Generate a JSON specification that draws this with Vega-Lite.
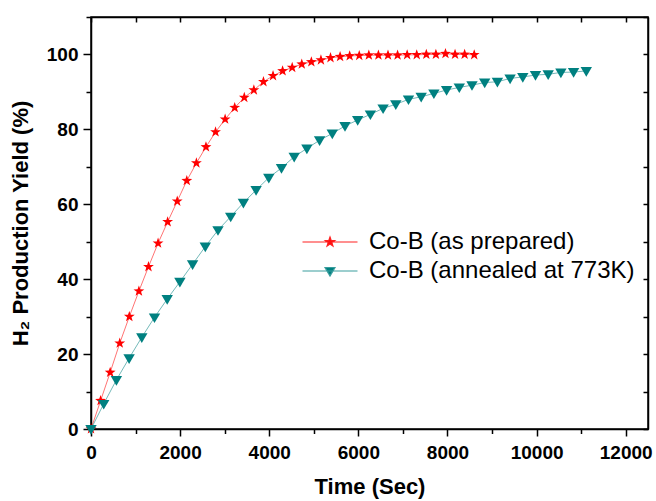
{
  "$schema": "https://vega.github.io/schema/vega-lite/v6.json",
  "width": 557,
  "height": 412,
  "autosize": {"type": "none"},
  "padding": {"left": 91, "top": 17, "right": 8, "bottom": 72},
  "background": "white",
  "config": {"view": {"stroke": "black", "strokeWidth": 1.5}, "font": "Liberation Sans",
    "legend": {"orient": "none", "legendX": 227, "legendY": 213, "title": null, "padding": 0,
      "labelFontSize": 24, "labelColor": "black", "labelOffset": 27, "rowPadding": 5, "symbolSize": 100, "labelLimit": 400, "symbolStrokeWidth": 1.2}},
  "datasets": {
    "legend": [
      {"label": "Co-B (as prepared)", "t": 0, "y": 0},
      {"label": "Co-B (annealed at 773K)", "t": 0, "y": 0}
    ]
  },
  "data": {"values": [
    {"s": "Co-B (as prepared)", "t": 0, "y": 0},
    {"s": "Co-B (as prepared)", "t": 215, "y": 7.55},
    {"s": "Co-B (as prepared)", "t": 430, "y": 15.1},
    {"s": "Co-B (as prepared)", "t": 645, "y": 22.9},
    {"s": "Co-B (as prepared)", "t": 860, "y": 30.0},
    {"s": "Co-B (as prepared)", "t": 1075, "y": 36.8},
    {"s": "Co-B (as prepared)", "t": 1290, "y": 43.3},
    {"s": "Co-B (as prepared)", "t": 1505, "y": 49.6},
    {"s": "Co-B (as prepared)", "t": 1720, "y": 55.3},
    {"s": "Co-B (as prepared)", "t": 1935, "y": 60.8},
    {"s": "Co-B (as prepared)", "t": 2150, "y": 66.3},
    {"s": "Co-B (as prepared)", "t": 2365, "y": 71.0},
    {"s": "Co-B (as prepared)", "t": 2580, "y": 75.3},
    {"s": "Co-B (as prepared)", "t": 2795, "y": 79.3},
    {"s": "Co-B (as prepared)", "t": 3010, "y": 82.7},
    {"s": "Co-B (as prepared)", "t": 3225, "y": 85.8},
    {"s": "Co-B (as prepared)", "t": 3440, "y": 88.5},
    {"s": "Co-B (as prepared)", "t": 3655, "y": 90.5},
    {"s": "Co-B (as prepared)", "t": 3870, "y": 92.7},
    {"s": "Co-B (as prepared)", "t": 4085, "y": 94.3},
    {"s": "Co-B (as prepared)", "t": 4300, "y": 95.6},
    {"s": "Co-B (as prepared)", "t": 4515, "y": 96.5},
    {"s": "Co-B (as prepared)", "t": 4730, "y": 97.4},
    {"s": "Co-B (as prepared)", "t": 4945, "y": 98.0},
    {"s": "Co-B (as prepared)", "t": 5160, "y": 98.5},
    {"s": "Co-B (as prepared)", "t": 5375, "y": 99.1},
    {"s": "Co-B (as prepared)", "t": 5590, "y": 99.4},
    {"s": "Co-B (as prepared)", "t": 5805, "y": 99.6},
    {"s": "Co-B (as prepared)", "t": 6020, "y": 99.7},
    {"s": "Co-B (as prepared)", "t": 6235, "y": 99.8},
    {"s": "Co-B (as prepared)", "t": 6450, "y": 99.8},
    {"s": "Co-B (as prepared)", "t": 6665, "y": 99.8},
    {"s": "Co-B (as prepared)", "t": 6880, "y": 99.8},
    {"s": "Co-B (as prepared)", "t": 7095, "y": 99.9},
    {"s": "Co-B (as prepared)", "t": 7310, "y": 99.9},
    {"s": "Co-B (as prepared)", "t": 7525, "y": 100.0},
    {"s": "Co-B (as prepared)", "t": 7740, "y": 100.0},
    {"s": "Co-B (as prepared)", "t": 7955, "y": 100.2},
    {"s": "Co-B (as prepared)", "t": 8170, "y": 100.0},
    {"s": "Co-B (as prepared)", "t": 8385, "y": 100.0},
    {"s": "Co-B (as prepared)", "t": 8600, "y": 99.9},
    {"s": "Co-B (annealed at 773K)", "t": 0, "y": 0},
    {"s": "Co-B (annealed at 773K)", "t": 285, "y": 6.7},
    {"s": "Co-B (annealed at 773K)", "t": 570, "y": 13.1},
    {"s": "Co-B (annealed at 773K)", "t": 855, "y": 18.9},
    {"s": "Co-B (annealed at 773K)", "t": 1140, "y": 24.5},
    {"s": "Co-B (annealed at 773K)", "t": 1425, "y": 29.8},
    {"s": "Co-B (annealed at 773K)", "t": 1710, "y": 34.7},
    {"s": "Co-B (annealed at 773K)", "t": 1995, "y": 39.3},
    {"s": "Co-B (annealed at 773K)", "t": 2280, "y": 44.0},
    {"s": "Co-B (annealed at 773K)", "t": 2565, "y": 48.7},
    {"s": "Co-B (annealed at 773K)", "t": 2850, "y": 53.1},
    {"s": "Co-B (annealed at 773K)", "t": 3135, "y": 56.7},
    {"s": "Co-B (annealed at 773K)", "t": 3420, "y": 60.4},
    {"s": "Co-B (annealed at 773K)", "t": 3705, "y": 63.8},
    {"s": "Co-B (annealed at 773K)", "t": 3990, "y": 67.1},
    {"s": "Co-B (annealed at 773K)", "t": 4275, "y": 69.7},
    {"s": "Co-B (annealed at 773K)", "t": 4560, "y": 72.7},
    {"s": "Co-B (annealed at 773K)", "t": 4845, "y": 74.9},
    {"s": "Co-B (annealed at 773K)", "t": 5130, "y": 77.1},
    {"s": "Co-B (annealed at 773K)", "t": 5415, "y": 78.9},
    {"s": "Co-B (annealed at 773K)", "t": 5700, "y": 80.9},
    {"s": "Co-B (annealed at 773K)", "t": 5985, "y": 82.5},
    {"s": "Co-B (annealed at 773K)", "t": 6270, "y": 84.0},
    {"s": "Co-B (annealed at 773K)", "t": 6555, "y": 85.6},
    {"s": "Co-B (annealed at 773K)", "t": 6840, "y": 86.7},
    {"s": "Co-B (annealed at 773K)", "t": 7125, "y": 88.0},
    {"s": "Co-B (annealed at 773K)", "t": 7410, "y": 88.7},
    {"s": "Co-B (annealed at 773K)", "t": 7695, "y": 89.6},
    {"s": "Co-B (annealed at 773K)", "t": 7980, "y": 90.5},
    {"s": "Co-B (annealed at 773K)", "t": 8265, "y": 91.2},
    {"s": "Co-B (annealed at 773K)", "t": 8550, "y": 91.8},
    {"s": "Co-B (annealed at 773K)", "t": 8835, "y": 92.5},
    {"s": "Co-B (annealed at 773K)", "t": 9120, "y": 92.7},
    {"s": "Co-B (annealed at 773K)", "t": 9405, "y": 93.6},
    {"s": "Co-B (annealed at 773K)", "t": 9690, "y": 94.0},
    {"s": "Co-B (annealed at 773K)", "t": 9975, "y": 94.5},
    {"s": "Co-B (annealed at 773K)", "t": 10260, "y": 94.7},
    {"s": "Co-B (annealed at 773K)", "t": 10545, "y": 95.2},
    {"s": "Co-B (annealed at 773K)", "t": 10830, "y": 95.3},
    {"s": "Co-B (annealed at 773K)", "t": 11115, "y": 95.6}
  ]},
  "layer": [
    {
      "transform": [{"filter": "datum.s === 'Co-B (as prepared)'"}],
      "mark": {"type": "line", "strokeWidth": 1, "opacity": 0.55, "color": "#ff0000"},
      "encoding": {
        "x": {"field": "t", "type": "quantitative",
          "scale": {"domain": [0, 12500], "nice": false, "zero": false},
          "axis": {"orient": "bottom", "values": [0,1000,2000,3000,4000,5000,6000,7000,8000,9000,10000,11000,12000],
            "labelExpr": "datum.value % 2000 === 0 ? datum.label : ''", "format": "d",
            "labelFontSize": 19, "labelFontWeight": "bold", "labelColor": "black", "labelPadding": 7, "labelFlush": false,
            "tickSize": {"condition": {"test": "datum.value % 2000 === 0", "value": 7}, "value": 4.5},
            "tickColor": "black", "tickWidth": 1.5, "domainColor": "black", "domainWidth": 1.5, "grid": false,
            "title": "Time (Sec)", "titleFontSize": 22, "titleFontWeight": "bold", "titleColor": "black", "titlePadding": 14}},
        "y": {"field": "y", "type": "quantitative",
          "scale": {"domain": [0, 110], "nice": false},
          "axis": {"orient": "left", "values": [0,10,20,30,40,50,60,70,80,90,100,110],
            "labelExpr": "datum.value % 20 === 0 ? datum.label : ''",
            "labelFontSize": 19, "labelFontWeight": "bold", "labelColor": "black", "labelPadding": 5, "labelFlush": false,
            "tickSize": {"condition": {"test": "datum.value % 20 === 0", "value": 8}, "value": 5},
            "tickColor": "black", "tickWidth": 1.5, "domainColor": "black", "domainWidth": 1.5, "grid": false,
            "title": "H₂ Production Yield (%)", "titleFontSize": 22, "titleFontWeight": "bold", "titleColor": "black", "titlePadding": 14}}
      }
    },
    {
      "transform": [{"filter": "datum.s === 'Co-B (annealed at 773K)'"}],
      "mark": {"type": "line", "strokeWidth": 1, "opacity": 0.55, "color": "#008080"},
      "encoding": {
        "x": {"field": "t", "type": "quantitative", "axis": null},
        "y": {"field": "y", "type": "quantitative", "axis": null}
      }
    },
    {
      "transform": [{"filter": "datum.s === 'Co-B (as prepared)'"}],
      "mark": {"type": "point", "filled": true, "opacity": 1, "size": 130, "color": "#ff0000", "strokeWidth": 0,
        "shape": "M0,-1L0.235,-0.324L0.951,-0.309L0.38,0.124L0.588,0.809L0,0.4L-0.588,0.809L-0.38,0.124L-0.951,-0.309L-0.235,-0.324Z"},
      "encoding": {
        "x": {"field": "t", "type": "quantitative",
          "axis": {"orient": "top", "values": [0,1000,2000,3000,4000,5000,6000,7000,8000,9000,10000,11000,12000],
            "labels": false, "tickSize": -5, "tickColor": "black", "tickWidth": 1.5, "domainColor": "black", "domainWidth": 1.5, "grid": false, "title": null}},
        "y": {"field": "y", "type": "quantitative",
          "axis": {"orient": "right", "values": [0,10,20,30,40,50,60,70,80,90,100,110],
            "labels": false, "tickSize": -5, "tickColor": "black", "tickWidth": 1.5, "domainColor": "black", "domainWidth": 1.5, "grid": false, "title": null}}
      }
    },
    {
      "transform": [{"filter": "datum.s === 'Co-B (annealed at 773K)'"}],
      "mark": {"type": "point", "filled": true, "opacity": 1, "size": 130, "color": "#008080", "strokeWidth": 0,
        "shape": "M-1,-0.7L1,-0.7L0,1Z"},
      "encoding": {
        "x": {"field": "t", "type": "quantitative", "axis": null},
        "y": {"field": "y", "type": "quantitative", "axis": null}
      }
    },
    {
      "data": {"name": "legend"},
      "mark": {"type": "point", "filled": true, "opacity": 1, "size": 0, "strokeWidth": 1.2},
      "encoding": {
        "x": {"field": "t", "type": "quantitative", "axis": null},
        "y": {"field": "y", "type": "quantitative", "axis": null},
        "shape": {"field": "label", "type": "nominal",
          "scale": {"domain": ["Co-B (as prepared)", "Co-B (annealed at 773K)"],
            "range": ["M-5.5,0L5.5,0M0,-1L0.235,-0.324L0.951,-0.309L0.38,0.124L0.588,0.809L0,0.4L-0.588,0.809L-0.38,0.124L-0.951,-0.309L-0.235,-0.324Z",
                      "M-5.5,0L5.5,0M-1,-0.7L1,-0.7L0,1Z"]}},
        "fill": {"field": "label", "type": "nominal",
          "scale": {"domain": ["Co-B (as prepared)", "Co-B (annealed at 773K)"], "range": ["#ff0000", "#008080"]}},
        "stroke": {"field": "label", "type": "nominal",
          "scale": {"domain": ["Co-B (as prepared)", "Co-B (annealed at 773K)"], "range": ["#ff2020", "#3a9e9e"]}}
      }
    }
  ],
  "resolve": {"axis": {"x": "independent", "y": "independent"}}
}
